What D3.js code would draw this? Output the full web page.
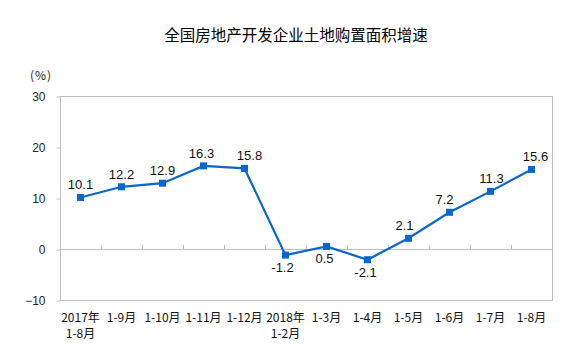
<!DOCTYPE html>
<html>
<head>
<meta charset="utf-8">
<script src="https://cdn.jsdelivr.net/npm/d3@7"></script>
<style>
  body { margin: 0; background: #fff; }
  text { font-family: "Noto Sans CJK SC", sans-serif; }
</style>
</head>
<body>
<div id="chart"></div>
<script>
// data
var months = ["2017年\n1-8月", "1-9月", "1-10月", "1-11月", "1-12月", "2018年\n1-2月",
              "1-3月", "1-4月", "1-5月", "1-6月", "1-7月", "1-8月"];
var growth = [10.1, 12.2, 12.9, 16.3, 15.8, -1.2, 0.5, -2.1, 2.1, 7.2, 11.3, 15.6];
var yTicks = [-10, 0, 10, 20, 30];
// label placement: above or below the point, small horizontal nudge
var labelSide = ["a", "a", "a", "a", "a", "b", "b", "b", "a", "a", "a", "a"];
var labelDx = [0, 0, 0, -2, 5, -3, -2, -2, -4, -5, 1, 4];

var width = 580, height = 363;
var margin = {top: 96, right: 28, bottom: 63, left: 60};

var svg = d3.select("#chart").append("svg")
  .attr("width", width)
  .attr("height", height);

var x = d3.scaleBand()
  .domain(d3.range(months.length))
  .range([margin.left, width - margin.right]);

var y = d3.scaleLinear()
  .domain([-10, 30])
  .range([height - margin.bottom, margin.top]);

var grey = "#bfbfbf";

// plot box
svg.append("rect")
  .attr("x", margin.left + 0.5)
  .attr("y", y(30) + 0.5)
  .attr("width", width - margin.right - margin.left)
  .attr("height", y(-10) - y(30))
  .attr("fill", "none")
  .attr("stroke", grey);

// y axis
var yAxis = svg.append("g")
  .attr("transform", "translate(" + (margin.left + 0.5) + ",0.5)")
  .call(d3.axisLeft(y).tickValues(yTicks).tickSize(4).tickPadding(11));
yAxis.select(".domain").remove();
yAxis.selectAll("line").attr("stroke", grey);
yAxis.selectAll("text")
  .attr("fill", "#222")
  .style("font-size", "12px")
  .style("font-family", "'Liberation Sans', Arial, sans-serif");

// zero line with small ticks at category boundaries
svg.append("line")
  .attr("x1", margin.left).attr("x2", width - margin.right)
  .attr("y1", Math.round(y(0)) + 0.5).attr("y2", Math.round(y(0)) + 0.5)
  .attr("stroke", grey);
svg.selectAll(".xtick")
  .data(d3.range(1, months.length))
  .enter().append("line")
  .attr("class", "xtick")
  .attr("x1", function(i) { return Math.round(x(i)) + 0.5; })
  .attr("x2", function(i) { return Math.round(x(i)) + 0.5; })
  .attr("y1", Math.round(y(0)) - 4)
  .attr("y2", Math.round(y(0)) + 1)
  .attr("stroke", grey);

// category labels under the plot
var cats = svg.selectAll(".cat")
  .data(months)
  .enter().append("text")
  .attr("class", "cat")
  .attr("text-anchor", "middle")
  .attr("fill", "#111")
  .style("font-size", "12px");
cats.each(function(d, i) {
  var t = d3.select(this);
  d.split("\n").forEach(function(part, k) {
    t.append("tspan")
      .attr("x", x(i) + x.bandwidth() / 2)
      .attr("y", y(-10) + 22 + k * 16)
      .text(part);
  });
});

// line and markers
var line = d3.line()
  .x(function(d, i) { return x(i) + x.bandwidth() / 2; })
  .y(function(d) { return y(d); });

svg.append("path")
  .datum(growth)
  .attr("d", line)
  .attr("fill", "none")
  .attr("stroke", "#0a66cc")
  .attr("stroke-width", 2.2);

svg.selectAll(".pt")
  .data(growth)
  .enter().append("rect")
  .attr("class", "pt")
  .attr("x", function(d, i) { return x(i) + x.bandwidth() / 2 - 3.5; })
  .attr("y", function(d) { return y(d) - 3.5; })
  .attr("width", 7)
  .attr("height", 7)
  .attr("fill", "#0a66cc");

// value labels
svg.selectAll(".val")
  .data(growth)
  .enter().append("text")
  .attr("class", "val")
  .attr("text-anchor", "middle")
  .attr("x", function(d, i) { return x(i) + x.bandwidth() / 2 + labelDx[i]; })
  .attr("y", function(d, i) { return labelSide[i] === "a" ? y(d) - 8 : y(d) + 17; })
  .attr("fill", "#111")
  .style("font-size", "13px")
  .style("font-family", "'Liberation Sans', Arial, sans-serif")
  .text(function(d) { return d.toFixed(1); });

// unit and title
svg.append("text")
  .attr("x", 41).attr("y", 80)
  .attr("text-anchor", "middle")
  .attr("fill", "#222")
  .style("font-size", "12px")
  .style("letter-spacing", "1px")
  .text("(%)");

svg.append("text")
  .attr("x", 296).attr("y", 41)
  .attr("text-anchor", "middle")
  .attr("fill", "#000")
  .style("font-size", "15.5px")
  .text("全国房地产开发企业土地购置面积增速");
</script>
</body>
</html>
